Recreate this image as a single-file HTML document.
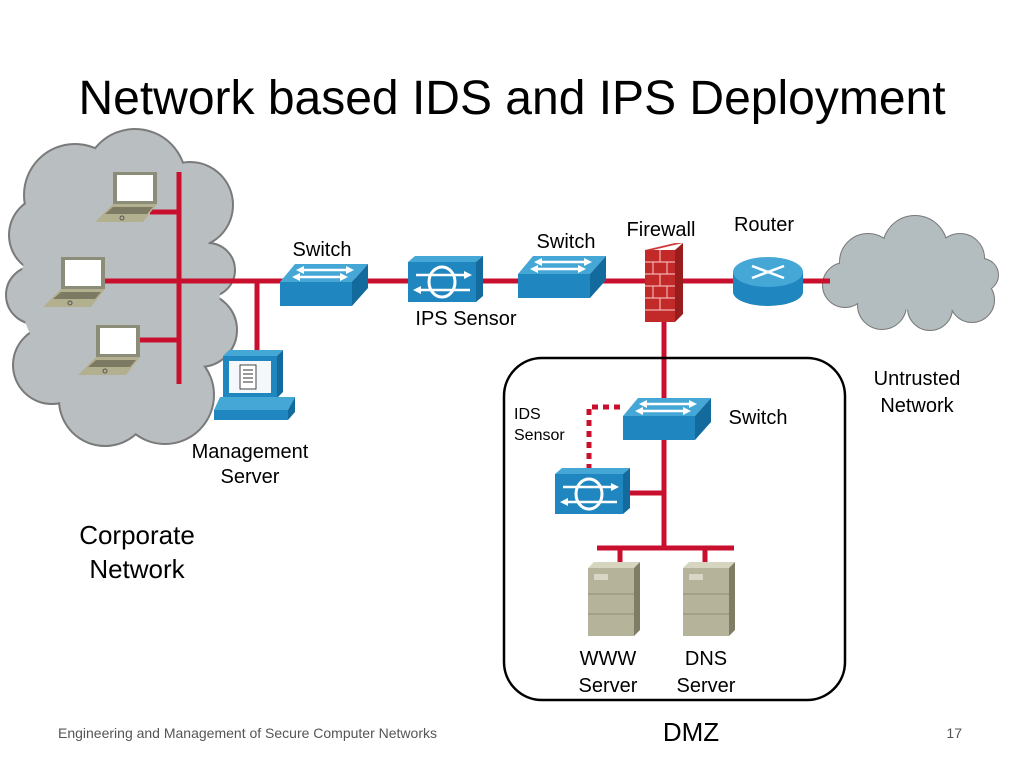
<!DOCTYPE html>
<html><head><meta charset="utf-8"><style>
body{margin:0;background:#fff}
svg{display:block}
text{font-family:"Liberation Sans",sans-serif;fill:#000}
</style></head><body>
<svg width="1024" height="768" viewBox="0 0 1024 768">
<defs>
<g id="sw">
<polygon points="15,0 88,0 72,18 0,18" fill="#45a7d6"/>
<polygon points="0,18 72,18 72,42 0,42" fill="#1f86bf"/>
<polygon points="72,18 88,0 88,24 72,42" fill="#136a9c"/>
<g stroke="#fff" stroke-width="2.5" fill="#fff">
<line x1="22" y1="6" x2="44" y2="6"/><polygon points="16,6 24,2 24,10" stroke="none"/>
<line x1="44" y1="6" x2="68" y2="6"/><polygon points="74,6 66,2 66,10" stroke="none"/>
<line x1="20" y1="13" x2="42" y2="13"/><polygon points="12,13 20,9 20,17" stroke="none"/>
<line x1="42" y1="13" x2="62" y2="13"/><polygon points="68,13 60,9 60,17" stroke="none"/>
</g>
</g>
<g id="ips">
<polygon points="0,6 7,0 75,0 68,6" fill="#45a7d6"/>
<rect x="0" y="6" width="68" height="40" fill="#1f86bf"/>
<polygon points="68,6 75,0 75,40 68,46" fill="#136a9c"/>
<ellipse cx="34" cy="26" rx="13" ry="15" fill="none" stroke="#fff" stroke-width="3"/>
<line x1="8" y1="19" x2="58" y2="19" stroke="#fff" stroke-width="2.5"/>
<polygon points="64,19 56,15 56,23" fill="#fff"/>
<line x1="12" y1="34" x2="62" y2="34" stroke="#fff" stroke-width="2.5"/>
<polygon points="5,34 13,30 13,38" fill="#fff"/>
</g>
<g id="lap">
<polygon points="18,0 62,0 62,32 18,32" fill="#8c8d78"/>
<rect x="22" y="3" width="36" height="26" fill="#fff"/>
<polygon points="18,32 62,32 48,50 0,50" fill="#b3b08f"/>
<polygon points="18,35 58,35 52,42 10,42" fill="#7c7a62"/>
<circle cx="27" cy="46" r="2" fill="none" stroke="#555" stroke-width="1"/>
</g>
<g id="srv">
<polygon points="0,6 6,0 52,0 46,6" fill="#d6d5c0"/>
<rect x="0" y="6" width="46" height="68" fill="#b5b39a"/>
<polygon points="46,6 52,0 52,68 46,74" fill="#7e7d66"/>
<rect x="6" y="12" width="14" height="6" fill="#d8d7c5"/>
<line x1="0" y1="32" x2="46" y2="32" stroke="#8e8c74" stroke-width="1"/>
<line x1="0" y1="52" x2="46" y2="52" stroke="#8e8c74" stroke-width="1"/>
</g>
</defs>

<text x="512" y="114" font-size="48" text-anchor="middle">Network based IDS and IPS Deployment</text>

<!-- left cloud -->
<g stroke="#7a7a7a" stroke-width="4" fill="#b9bec1">
<circle cx="75" cy="195" r="50"/><circle cx="135" cy="180" r="50"/><circle cx="190" cy="205" r="42"/><circle cx="208" cy="270" r="26"/><circle cx="200" cy="330" r="36"/><circle cx="165" cy="395" r="48"/><circle cx="105" cy="400" r="45"/><circle cx="52" cy="365" r="38"/><circle cx="35" cy="295" r="28"/><circle cx="48" cy="235" r="38"/>
</g>
<g fill="#b9bec1">
<circle cx="75" cy="195" r="50"/><circle cx="135" cy="180" r="50"/><circle cx="190" cy="205" r="42"/><circle cx="208" cy="270" r="26"/><circle cx="200" cy="330" r="36"/><circle cx="165" cy="395" r="48"/><circle cx="105" cy="400" r="45"/><circle cx="52" cy="365" r="38"/><circle cx="35" cy="295" r="28"/><circle cx="48" cy="235" r="38"/><circle cx="120" cy="290" r="100"/>
</g>
<!-- right cloud -->
<g stroke="#7a7a7a" stroke-width="2" fill="#b3bcbe">
<circle cx="868" cy="262" r="28"/><circle cx="915" cy="248" r="32"/><circle cx="960" cy="258" r="24"/><circle cx="982" cy="275" r="16"/><circle cx="972" cy="300" r="22"/><circle cx="930" cy="308" r="22"/><circle cx="882" cy="305" r="24"/><circle cx="845" cy="285" r="22"/>
</g>
<g fill="#b3bcbe">
<circle cx="868" cy="262" r="28"/><circle cx="915" cy="248" r="32"/><circle cx="960" cy="258" r="24"/><circle cx="982" cy="275" r="16"/><circle cx="972" cy="300" r="22"/><circle cx="930" cy="308" r="22"/><circle cx="882" cy="305" r="24"/><circle cx="845" cy="285" r="22"/><ellipse cx="915" cy="280" rx="70" ry="30"/>
</g>

<!-- red lines -->
<g stroke="#c8102e" stroke-width="5" fill="none">
<line x1="179" y1="172" x2="179" y2="384"/>
<line x1="105" y1="281" x2="830" y2="281"/>
<line x1="150" y1="212" x2="179" y2="212"/>
<line x1="138" y1="340" x2="179" y2="340"/>
<line x1="257" y1="281" x2="257" y2="352"/>
<line x1="664" y1="300" x2="664" y2="400"/>
<line x1="664" y1="440" x2="664" y2="548"/>
<line x1="620" y1="493" x2="664" y2="493"/>
<line x1="597" y1="548" x2="734" y2="548"/>
<line x1="620" y1="548" x2="620" y2="565"/>
<line x1="705" y1="548" x2="705" y2="565"/>
<polyline points="589,470 589,407 625,407" stroke-dasharray="6,5"/>
</g>

<!-- laptops -->
<use href="#lap" x="95" y="172"/>
<use href="#lap" x="43" y="257"/>
<use href="#lap" x="78" y="325"/>

<!-- management server -->
<polygon points="223,356 229,350 283,350 277,356" fill="#45a7d6"/>
<rect x="223" y="356" width="54" height="42" fill="#1f86bf"/>
<polygon points="277,356 283,350 283,392 277,398" fill="#136a9c"/>
<rect x="229" y="361" width="42" height="32" fill="#f4f8fb"/>
<rect x="240" y="365" width="16" height="24" fill="#fff" stroke="#444" stroke-width="1"/>
<g stroke="#333" stroke-width="1"><line x1="243" y1="370" x2="253" y2="370"/><line x1="243" y1="374" x2="253" y2="374"/><line x1="243" y1="378" x2="253" y2="378"/><line x1="243" y1="382" x2="253" y2="382"/></g>
<polygon points="220,397 295,397 288,410 214,410" fill="#45a7d6"/>
<rect x="214" y="410" width="74" height="10" fill="#1f86bf"/>
<polygon points="288,410 295,397 295,412 288,420" fill="#136a9c"/>

<use href="#sw" x="280" y="264"/>
<use href="#ips" x="408" y="256"/>
<use href="#sw" x="518" y="256"/>

<!-- firewall -->
<polygon points="645,250 675,243 683,243 653,250" fill="#d23a3a"/>
<rect x="645" y="250" width="30" height="72" fill="#c22a2a"/>
<polygon points="675,250 683,243 683,314 675,322" fill="#9a1d1d"/>
<g stroke="#f3b0b0" stroke-width="1.2">
<line x1="645" y1="262" x2="675" y2="262"/><line x1="645" y1="274" x2="675" y2="274"/><line x1="645" y1="286" x2="675" y2="286"/><line x1="645" y1="298" x2="675" y2="298"/><line x1="645" y1="310" x2="675" y2="310"/>
<line x1="660" y1="250" x2="660" y2="262"/><line x1="653" y1="262" x2="653" y2="274"/><line x1="667" y1="262" x2="667" y2="274"/><line x1="660" y1="274" x2="660" y2="286"/><line x1="653" y1="286" x2="653" y2="298"/><line x1="667" y1="286" x2="667" y2="298"/><line x1="660" y1="298" x2="660" y2="310"/>
</g>

<!-- router -->
<path d="M733,272 v20 a35,14 0 0 0 70,0 v-20 z" fill="#1f86bf"/>
<ellipse cx="768" cy="272" rx="35" ry="15" fill="#45a7d6"/>
<g stroke="#fff" stroke-width="2.5"><line x1="752" y1="266" x2="784" y2="278"/><line x1="784" y1="266" x2="752" y2="278"/></g>

<!-- DMZ -->
<rect x="504" y="358" width="341" height="342" rx="38" fill="none" stroke="#000" stroke-width="2.5"/>
<use href="#sw" x="623" y="398"/>
<use href="#ips" x="555" y="468"/>
<use href="#srv" x="588" y="562"/>
<use href="#srv" x="683" y="562"/>

<!-- labels -->
<g font-size="20">
<text x="322" y="256" text-anchor="middle">Switch</text>
<text x="566" y="248" text-anchor="middle">Switch</text>
<text x="661" y="236" text-anchor="middle">Firewall</text>
<text x="764" y="231" text-anchor="middle">Router</text>
<text x="466" y="325" text-anchor="middle">IPS Sensor</text>
<text x="917" y="385" text-anchor="middle">Untrusted</text>
<text x="917" y="412" text-anchor="middle">Network</text>
<text x="758" y="424" text-anchor="middle">Switch</text>
<text x="250" y="458" text-anchor="middle">Management</text>
<text x="250" y="483" text-anchor="middle">Server</text>
<text x="608" y="665" text-anchor="middle">WWW</text>
<text x="608" y="692" text-anchor="middle">Server</text>
<text x="706" y="665" text-anchor="middle">DNS</text>
<text x="706" y="692" text-anchor="middle">Server</text>
</g>
<text x="514" y="419" font-size="16">IDS</text>
<text x="514" y="440" font-size="16">Sensor</text>
<text x="137" y="544" font-size="26" text-anchor="middle">Corporate</text>
<text x="137" y="578" font-size="26" text-anchor="middle">Network</text>
<text x="691" y="741" font-size="26" text-anchor="middle">DMZ</text>
<text x="58" y="738" font-size="14" fill="#555" style="fill:#555">Engineering and Management of Secure Computer Networks</text>
<text x="962" y="738" font-size="14" text-anchor="end" style="fill:#555">17</text>
</svg>
</body></html>
